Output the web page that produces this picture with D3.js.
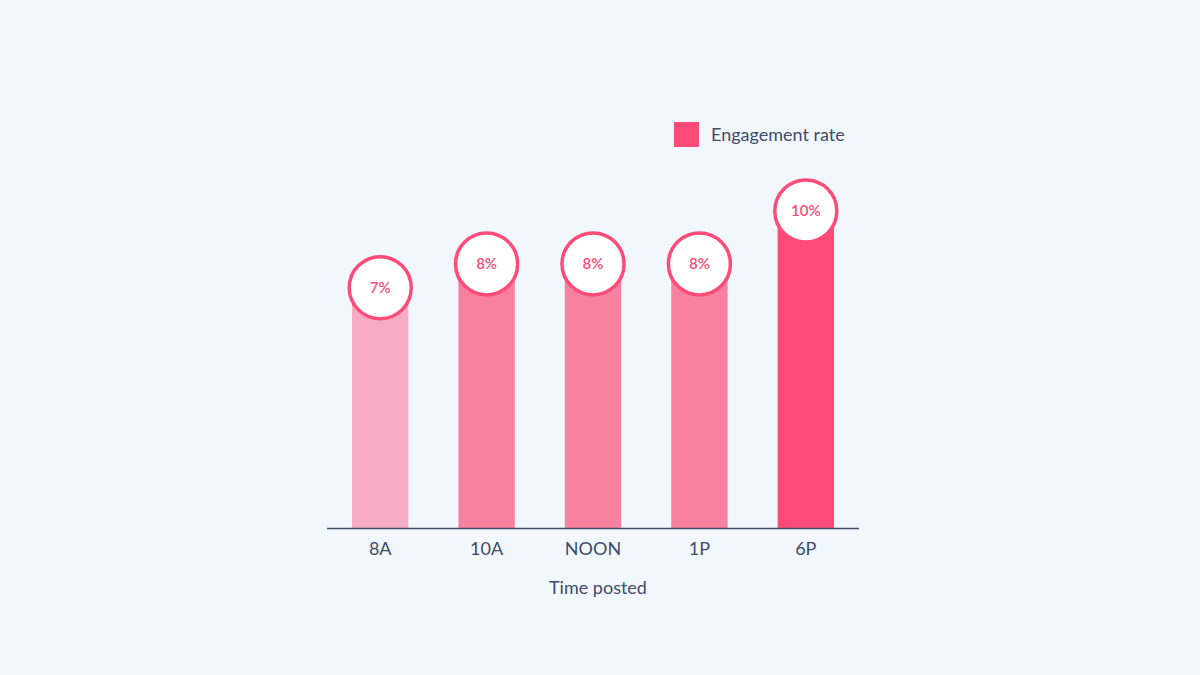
<!DOCTYPE html>
<html>
<head>
<meta charset="utf-8">
<script src="https://cdn.jsdelivr.net/npm/d3@7"></script>
<style>
  body { margin: 0; background: #f2f7fe; }
  svg { display: block; font-family: Lato, "Open Sans", sans-serif; }
</style>
</head>
<body>
<div id="chart"></div>
<script>
// data
const categories = ["8A", "10A", "NOON", "1P", "6P"];
const values = [7.58, 8.33, 8.33, 8.33, 10];
const labels = ["7%", "8%", "8%", "8%", "10%"];
const barColors = ["#f8abc5", "#f8819f", "#f8819f", "#f8819f", "#ff4b77"];

const width = 1200, height = 675;
const svg = d3.select("#chart").append("svg")
  .attr("width", width).attr("height", height);

svg.append("rect").attr("width", width).attr("height", height).attr("fill", "#f2f7fe");

const x = d3.scaleBand().domain(categories).range([327, 859]).paddingInner(0.47).paddingOuter(0.235);
const y = d3.scaleLinear().domain([0, 10]).range([528, 211]);

// bars
svg.selectAll(".bar")
  .data(categories)
  .join("rect")
  .attr("x", d => x(d))
  .attr("width", x.bandwidth())
  .attr("y", (d, i) => y(values[i]))
  .attr("height", (d, i) => y(0) - y(values[i]))
  .attr("fill", (d, i) => barColors[i]);

// axis line + labels
svg.append("line")
  .attr("x1", 327).attr("x2", 859).attr("y1", 528.5).attr("y2", 528.5)
  .attr("stroke", "#3e4b6a").attr("stroke-width", 1.5);

svg.selectAll(".tick")
  .data(categories)
  .join("text")
  .attr("x", d => x(d) + x.bandwidth() / 2)
  .attr("y", 555)
  .attr("text-anchor", "middle")
  .attr("font-size", 18)
  .attr("fill", "#3e4b6a")
  .text(d => d);

svg.append("text")
  .attr("x", 598).attr("y", 594)
  .attr("text-anchor", "middle")
  .attr("font-size", 18)
  .attr("fill", "#3e4b6a")
  .text("Time posted");

// value bubbles
const bub = svg.selectAll(".bub")
  .data(categories)
  .join("g")
  .attr("transform", (d, i) => `translate(${x(d) + x.bandwidth() / 2},${y(values[i])})`);

bub.append("circle")
  .attr("r", 31)
  .attr("fill", "#fff")
  .attr("stroke", "#ff4b77")
  .attr("stroke-width", 3.5);

bub.append("text")
  .attr("text-anchor", "middle")
  .attr("dy", 5)
  .attr("font-size", 15)
  .attr("font-weight", 600)
  .attr("fill", "#ff4b77")
  .text((d, i) => labels[i]);

// legend
svg.append("rect")
  .attr("x", 674).attr("y", 122).attr("width", 25).attr("height", 25)
  .attr("fill", "#ff4b77");
svg.append("text")
  .attr("x", 711).attr("y", 141)
  .attr("font-size", 18)
  .attr("fill", "#3e4b6a")
  .text("Engagement rate");
</script>
</body>
</html>
